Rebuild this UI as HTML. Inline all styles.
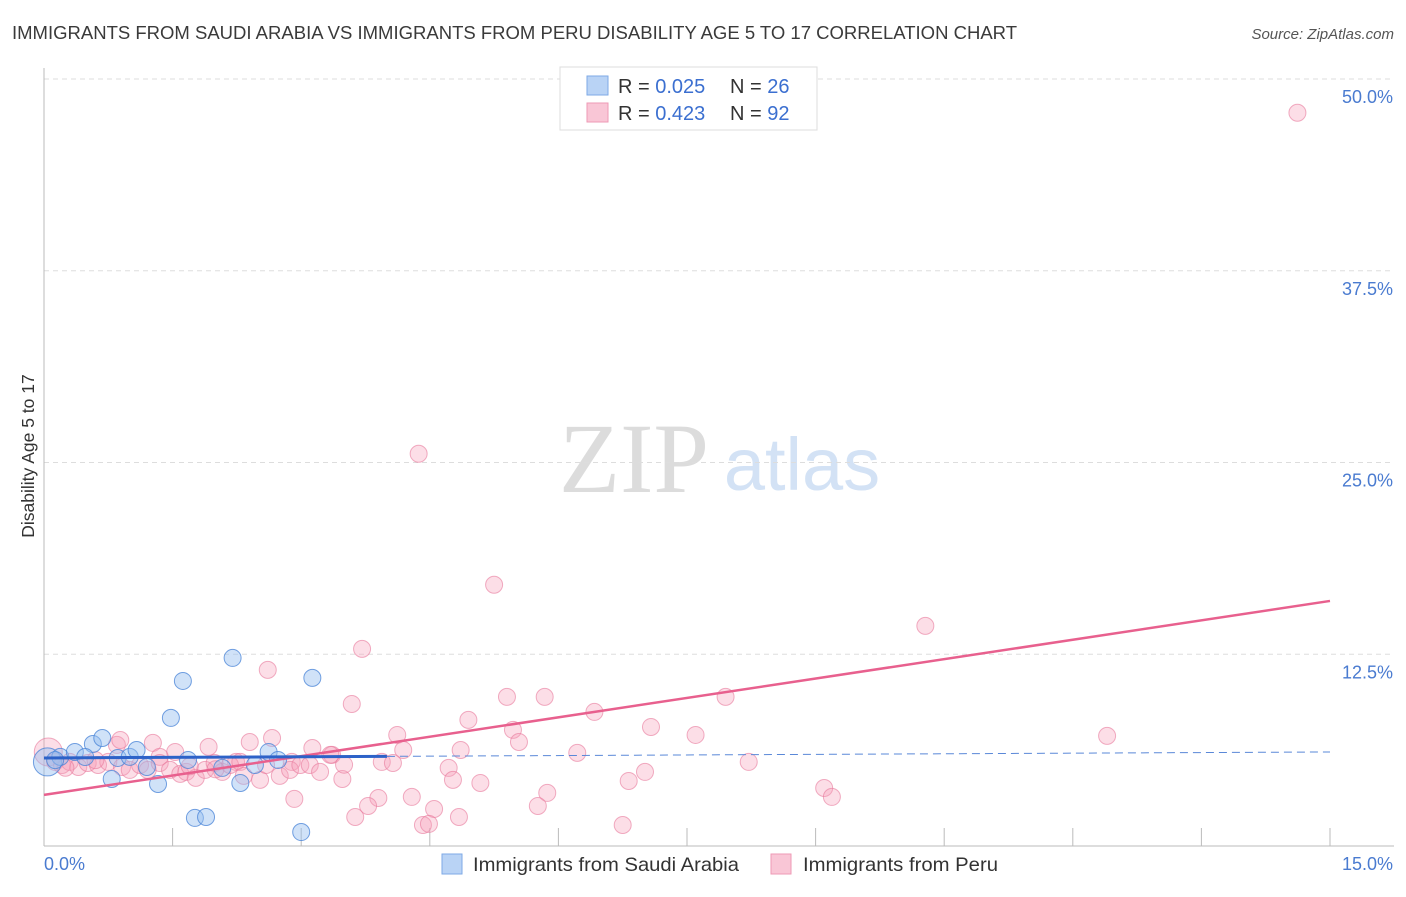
<!DOCTYPE html>
<html><head><meta charset="utf-8"><style>
body{margin:0;background:#fff;font-family:"Liberation Sans",sans-serif;}
svg text{font-family:"Liberation Sans",sans-serif;}
</style></head><body>
<svg id="c" width="1406" height="892" xmlns="http://www.w3.org/2000/svg">
<text x="12" y="39" font-size="18" textLength="1005" lengthAdjust="spacingAndGlyphs" fill="#3a3a3a">IMMIGRANTS FROM SAUDI ARABIA VS IMMIGRANTS FROM PERU DISABILITY AGE 5 TO 17 CORRELATION CHART</text>
<text x="1394" y="39" font-size="15" fill="#555" font-style="italic" text-anchor="end">Source: ZipAtlas.com</text>
<text x="34" y="456" font-size="17.5" fill="#333" text-anchor="middle" transform="rotate(-90 34 456)">Disability Age 5 to 17</text>
<g><text x="634" y="492" font-size="100" fill="#dcdcdc" style="font-family:'Liberation Serif',serif" text-anchor="middle">ZIP</text><text x="802" y="490" font-size="74" fill="#d3e2f5" text-anchor="middle">atlas</text></g>
<g id="grid"></g><g id="axes"></g><g id="pts"></g><g id="trend"></g>
<g>
<rect x="560" y="67" width="257" height="63" fill="#fff" stroke="#ddd"/>
<rect x="587" y="76" width="21" height="19" fill="#b9d3f5" stroke="#7ea9e6"/>
<rect x="587" y="103" width="21" height="19" fill="#f9c6d6" stroke="#ee9ab5"/>
<text x="618" y="93" font-size="20" fill="#333">R = <tspan fill="#3b6fd0">0.025</tspan></text>
<text x="730" y="93" font-size="20" fill="#333">N = <tspan fill="#3b6fd0">26</tspan></text>
<text x="618" y="120" font-size="20" fill="#333">R = <tspan fill="#3b6fd0">0.423</tspan></text>
<text x="730" y="120" font-size="20" fill="#333">N = <tspan fill="#3b6fd0">92</tspan></text>
</g>
<g>
<rect x="442" y="854" width="20" height="20" fill="#b9d3f5" stroke="#7ea9e6"/>
<text x="473" y="871" font-size="19.5" textLength="266" lengthAdjust="spacingAndGlyphs" fill="#333">Immigrants from Saudi Arabia</text>
<rect x="771" y="854" width="20" height="20" fill="#f9c6d6" stroke="#ee9ab5"/>
<text x="803" y="871" font-size="19.5" textLength="195" lengthAdjust="spacingAndGlyphs" fill="#333">Immigrants from Peru</text>
</g>
</svg>
<script>
const yTicks=[12.5,25,37.5,50];
const yTickLabels=["12.5%","25.0%","37.5%","50.0%"];
const xTicks=[0,1.5,3,4.5,6,7.5,9,10.5,12,13.5,15];
const saudiX=[0.04,0.19,0.36,0.57,0.68,0.79,0.86,1.0,1.08,1.2,1.33,1.48,1.62,1.68,1.76,1.89,2.08,2.2,2.29,2.46,2.62,2.73,3.0,3.13,0.13,0.48];
const saudiY=[5.48,5.81,6.13,6.65,7.04,4.37,5.74,5.81,6.26,5.15,4.04,8.35,10.76,5.61,1.83,1.89,5.09,12.26,4.11,5.28,6.13,5.61,0.91,10.96,5.6,5.8];
const peruX=[14.62,4.37,5.25,10.28,3.71,2.61,3.59,5.4,5.84,7.95,4.95,6.42,7.08,5.47,5.54,7.6,12.4,4.12,2.66,2.4,0.85,1.27,1.92,3.13,4.19,4.86,6.22,3.36,1.53,1.35,8.22,3.94,4.07,2.24,2.89,7.01,4.72,4.77,3.48,5.09,6.82,9.1,9.19,5.87,3.9,2.92,4.29,3.78,4.55,5.76,3.63,4.84,4.42,4.49,6.75,0.05,0.13,0.21,0.3,0.4,0.51,0.63,0.75,0.91,1.0,1.12,1.21,1.35,1.47,1.59,1.66,1.77,1.88,1.99,2.08,2.17,2.29,2.33,2.52,2.59,2.75,2.87,2.99,3.1,3.22,3.34,0.89,0.25,0.6,1.7,2.0,3.5];
const peruY=[47.8,25.57,17.03,14.35,12.85,11.48,9.26,9.72,9.72,9.72,8.22,8.74,7.76,7.57,6.78,7.24,7.18,7.24,7.04,6.78,6.59,6.72,6.46,6.39,6.26,6.26,6.07,5.94,6.13,5.81,5.48,5.48,5.41,5.48,5.48,4.83,5.09,4.31,4.37,4.11,4.24,3.78,3.2,3.46,3.13,3.07,3.2,2.61,2.41,2.61,1.89,1.89,1.37,1.44,1.37,6.13,5.48,5.28,5.48,5.15,5.41,5.28,5.48,5.15,4.96,5.28,4.96,5.41,4.96,4.7,4.83,4.44,4.96,5.41,4.83,5.28,5.48,4.57,4.31,5.28,4.57,4.96,5.28,5.28,4.83,5.94,6.91,5.1,5.6,5.2,5.0,5.3];
const saudiTrend=[5.74,0.026];  // intercept, slope
const peruTrend=[3.33,0.843];
const saudiTrendEndX=4.0;
const NS="http://www.w3.org/2000/svg";
const X0=44,X1=1330,Y0=846,Y1=79;
const sx=v=>X0+(v/15)*(X1-X0), sy=v=>Y0-(v/50)*(Y0-Y1);
function mk(tag,attrs,parent){const e=document.createElementNS(NS,tag);for(const k in attrs)e.setAttribute(k,attrs[k]);parent.appendChild(e);return e;}
const grid=document.getElementById('grid'),axes=document.getElementById('axes');
yTicks.forEach((t,i)=>{
  const l=mk('line',{x1:X0,x2:1394,y1:sy(t),y2:sy(t),stroke:'#ddd','stroke-dasharray':'5,4'},grid);
  
  
  const tx=mk('text',{x:1393,y:sy(t)+24,'font-size':18,fill:'#4a7bd0','text-anchor':'end'},axes);
  tx.textContent=yTickLabels[i];
  
  
});
const ax=mk('line',{x1:X0,x2:X0,y1:68,y2:Y0,stroke:'#bbb'},axes);


const bx=mk('line',{x1:X0,x2:1394,y1:Y0,y2:Y0,stroke:'#bbb'},axes);


xTicks.slice(1).forEach(t=>{
  const l=mk('line',{x1:sx(t),x2:sx(t),y1:Y0-18,y2:Y0,stroke:'#bbb'},axes);
  
  
});
[["0.0%",X0,'start'],["15.0%",1393,'end']].forEach(a=>{
  const t=mk('text',{x:a[1],y:870,'font-size':18,fill:'#4a7bd0','text-anchor':a[2]},axes);
  t.textContent=a[0];
  
  
});
const pts=document.getElementById('pts');
peruX.forEach((x,i)=>{
  const c=mk('circle',{cx:sx(x),cy:sy(peruY[i]),r:i==55?14:8.5,fill:'rgba(245,160,185,0.35)',stroke:'rgba(232,120,155,0.6)','stroke-width':1},pts);
  
  
});
saudiX.forEach((x,i)=>{
  const c=mk('circle',{cx:sx(x),cy:sy(saudiY[i]),r:i==0?14:8.5,fill:'rgba(150,190,240,0.45)',stroke:'rgba(70,130,215,0.75)','stroke-width':1},pts);
  
  
});
const tr=document.getElementById('trend');
let l=mk('line',{x1:sx(0),y1:sy(peruTrend[0]),x2:sx(15),y2:sy(peruTrend[0]+peruTrend[1]*15),stroke:'#e8608e','stroke-width':2.5},tr);


l=mk('line',{x1:sx(0),y1:sy(saudiTrend[0]),x2:sx(saudiTrendEndX),y2:sy(saudiTrend[0]+saudiTrend[1]*saudiTrendEndX),stroke:'#2d62c8','stroke-width':3},tr);


l=mk('line',{x1:sx(saudiTrendEndX),y1:sy(saudiTrend[0]+saudiTrend[1]*saudiTrendEndX),x2:sx(15),y2:sy(saudiTrend[0]+saudiTrend[1]*15),stroke:'#5a88d8','stroke-width':1,'stroke-dasharray':'8,5'},tr);


</script>
</body></html>
